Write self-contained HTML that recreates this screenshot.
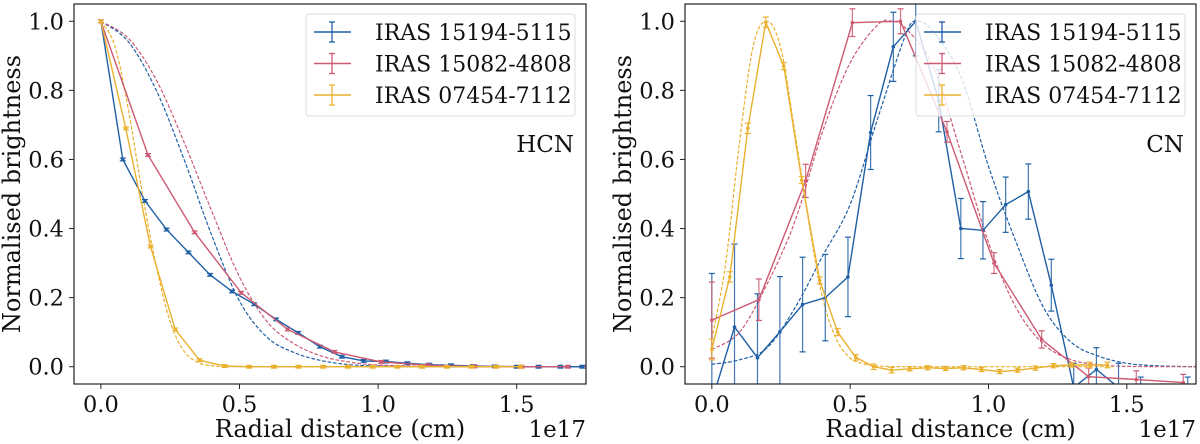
<!DOCTYPE html>
<html><head><meta charset="utf-8">
<style>
html,body{margin:0;padding:0;background:#fff;overflow:hidden;width:1200px;height:444px;}
svg{display:block;}
text{font-family:"DejaVu Serif","Liberation Serif",serif;fill:#111;}
</style></head>
<body>
<svg id="chart" width="1200" height="444" viewBox="0 0 1200 444" xmlns="http://www.w3.org/2000/svg"></svg>
<script>
// ---- HCN panel data ----
const hcnBlueX = [0,0.079,0.159,0.237,0.316,0.394,0.473,0.553,0.632,0.712,0.79,0.869,0.948,1.028,1.106,1.185,1.263,1.342,1.421,1.5,1.579,1.658,1.737];
const hcnBlueY = [1,0.60,0.48,0.397,0.331,0.266,0.218,0.181,0.137,0.098,0.058,0.029,0.017,0.015,0.01,0.006,0.004,0.002,0.001,0,0,0,0];
const hcnRedX = [0,0.17,0.338,0.506,0.674,0.843,1.011,1.18,1.348,1.517,1.685];
const hcnRedY = [1,0.613,0.389,0.214,0.108,0.043,0.014,0.004,0.001,0,0];
const hcnYelX = [0,0.09,0.179,0.268,0.356,0.446,0.535,0.624,0.713,0.802,0.891,0.98,1.07,1.159,1.248,1.337,1.426,1.515];
const hcnYelY = [1,0.69,0.348,0.108,0.019,0.002,0,0,0,0,0,0,0,0,0,0,0,0];
const hcnModelBlueX = [0,0.1,0.2,0.3,0.4,0.5,0.6,0.7,0.8,0.9,1.0,1.2,1.75];
const hcnModelBlueY = [1,0.94,0.80,0.60,0.38,0.19,0.085,0.04,0.017,0.006,0.002,0,0];
const hcnModelRedX = [0,0.1,0.2,0.3,0.4,0.5,0.6,0.7,0.8,0.9,1.0,1.2,1.4,1.75];
const hcnModelRedY = [1,0.95,0.83,0.65,0.45,0.26,0.13,0.065,0.03,0.013,0.005,0.001,0,0];
const hcnModelYelX = [0,0.05,0.1,0.15,0.2,0.25,0.3,0.35,0.4,0.5,1.0,1.5];
const hcnModelYelY = [1,0.93,0.74,0.5,0.29,0.13,0.045,0.013,0.003,0,0,0];

// ---- CN panel data ----
const cnBlueX = [0,0.082,0.165,0.246,0.328,0.41,0.492,0.574,0.656,0.737,0.82,0.9,0.98,1.062,1.144,1.227,1.308,1.39,1.47,1.55,1.63,1.72];
const cnBlueY = [-0.1,0.115,0.026,0.101,0.18,0.2,0.26,0.678,0.926,1.0,0.77,0.40,0.395,0.469,0.507,0.236,-0.06,-0.008,-0.06,-0.1,-0.12,-0.1];
const cnBlueErr = [0.37,0.24,0.185,0.16,0.137,0.125,0.115,0.107,0.1,0.1,0.09,0.087,0.083,0.08,0.08,0.075,0.07,0.063,0.07,0.07,0.07,0.07];
const cnRedX = [0,0.17,0.339,0.508,0.682,0.85,1.02,1.192,1.362,1.534,1.704];
const cnRedY = [0.135,0.194,0.538,0.996,1.0,0.68,0.30,0.079,-0.029,-0.037,-0.046];
const cnRedErr = [0.11,0.06,0.048,0.04,0.036,0.03,0.03,0.025,0.025,0.025,0.024];
const cnYelX = [0,0.065,0.13,0.195,0.26,0.325,0.39,0.455,0.52,0.585,0.65,0.715,0.78,0.845,0.91,0.975,1.04,1.105,1.17,1.235,1.3,1.365,1.43];
const cnYelY = [0.05,0.26,0.69,0.997,0.87,0.54,0.25,0.10,0.027,0.0,-0.01,-0.006,-0.003,-0.005,-0.003,-0.008,-0.014,-0.01,-0.004,0.003,0.005,0.005,0.005];
const cnYelErr = [0.03,0.015,0.015,0.015,0.01,0.01,0.01,0.01,0.008,0.008,0.008,0.006,0.006,0.006,0.006,0.006,0.006,0.006,0.006,0.006,0.006,0.008,0.008];
const cnModelBlueX = [0,0.1,0.2,0.3,0.4,0.5,0.6,0.7,0.74,0.8,0.9,1.0,1.1,1.2,1.3,1.4,1.5,1.6,1.75];
const cnModelBlueY = [0.007,0.02,0.055,0.17,0.32,0.47,0.72,0.96,1.0,0.97,0.84,0.58,0.36,0.17,0.07,0.03,0.01,0.003,0];
const cnModelRedX = [0,0.1,0.2,0.3,0.4,0.5,0.6,0.65,0.7,0.8,0.9,1.0,1.1,1.2,1.3,1.4,1.5,1.75];
const cnModelRedY = [0.05,0.1,0.24,0.42,0.68,0.88,0.99,1.0,0.98,0.87,0.62,0.36,0.17,0.065,0.02,0.006,0.001,0];
const cnModelYelX = [0,0.05,0.1,0.15,0.2,0.25,0.3,0.35,0.4,0.45,0.5,0.55,0.6,0.7,1.0,1.45];
const cnModelYelY = [0.08,0.3,0.65,0.93,1.0,0.92,0.68,0.42,0.2,0.08,0.025,0.008,0.002,0,0,0];

const xTicks = [0,0.5,1.0,1.5];
const xTickLabels = ["0.0","0.5","1.0","1.5"];
const yTicks = [0,0.2,0.4,0.6,0.8,1.0];
const yTickLabels = ["0.0","0.2","0.4","0.6","0.8","1.0"];
const legendLabels = ["IRAS 15194-5115","IRAS 15082-4808","IRAS 07454-7112"];

const COLORS = ["#1f5fa6","#cc5a72","#eab12f"];
const NS = "http://www.w3.org/2000/svg";
const svg = document.getElementById("chart");
function mk(tag, attrs, parent){const e=document.createElementNS(NS,tag);for(const k in attrs)e.setAttribute(k,attrs[k]);(parent||svg).appendChild(e);return e;}
function smooth(pts){
  let d = "M"+pts[0][0].toFixed(1)+","+pts[0][1].toFixed(1);
  for(let i=0;i<pts.length-1;i++){
    const p0=pts[Math.max(0,i-1)], p1=pts[i], p2=pts[i+1], p3=pts[Math.min(pts.length-1,i+2)];
    const c1=[p1[0]+(p2[0]-p0[0])/6, p1[1]+(p2[1]-p0[1])/6];
    const c2=[p2[0]-(p3[0]-p1[0])/6, p2[1]-(p3[1]-p1[1])/6];
    d += " C"+c1[0].toFixed(1)+","+c1[1].toFixed(1)+" "+c2[0].toFixed(1)+","+c2[1].toFixed(1)+" "+p2[0].toFixed(1)+","+p2[1].toFixed(1);
  }
  return d;
}

function panel(id, L, R, label, series, models){
  const T=4, B=384, xmin=-0.097, xmax=1.75, ymin=-0.05, ymax=1.05;
  const sx = v => L + (v - xmin)/(xmax - xmin)*(R - L);
  const sy = v => B - (v - ymin)/(ymax - ymin)*(B - T);
  const g = mk("g",{});
  
  
  const cp = mk("clipPath",{id:id+"clip"},g);
  mk("rect",{x:L,y:T,width:R-L,height:B-T},cp);
  const plot = mk("g",{"clip-path":"url(#"+id+"clip)"},g);
  
  
  models.forEach((m,i)=>{
    const pts = m[0].map((x,j)=>[sx(x), sy(m[1][j])]);
    const p = mk("path",{d:smooth(pts),fill:"none",stroke:COLORS[i],"stroke-width":1.2,"stroke-dasharray":"3.7,1.8"},plot);
    
    
  });
  series.forEach((s,i)=>{
    const sg = mk("g",{},plot);
    
    
    const d = s[0].map((x,j)=>(j?"L":"M")+sx(x).toFixed(1)+","+sy(s[1][j]).toFixed(1)).join(" ");
    mk("path",{d:d,fill:"none",stroke:COLORS[i],"stroke-width":1.4},sg);
    s[0].forEach((x,j)=>{
      const cx=sx(x), cy=sy(s[1][j]);
      const e = s[2] ? s[2][j] : 0.004;
      const y1=sy(s[1][j]+e), y2=sy(s[1][j]-e);
      mk("line",{x1:cx,x2:cx,y1:y1,y2:y2,stroke:COLORS[i],"stroke-width":1.2,opacity:0.85},sg);
      mk("line",{x1:cx-3,x2:cx+3,y1:y1,y2:y1,stroke:COLORS[i],"stroke-width":1.2},sg);
      mk("line",{x1:cx-3,x2:cx+3,y1:y2,y2:y2,stroke:COLORS[i],"stroke-width":1.2},sg);
      const pt = mk("circle",{cx:cx,cy:cy,r:1.8,fill:COLORS[i]},sg);
      
      
    });
  });
  const fr = mk("rect",{x:L,y:T,width:R-L,height:B-T,fill:"none",stroke:"#222","stroke-width":1.2},g);
  
  
  xTicks.forEach((v,k)=>{
    mk("line",{x1:sx(v),x2:sx(v),y1:B,y2:B+5,stroke:"#222","stroke-width":1},g);
    const t = mk("text",{x:sx(v),y:412,"text-anchor":"middle","font-size":22.5},g);
    t.textContent = xTickLabels[k];
    
    
  });
  yTicks.forEach((v,k)=>{
    mk("line",{x1:L-5,x2:L,y1:sy(v),y2:sy(v),stroke:"#222","stroke-width":1},g);
    const t = mk("text",{x:L-10,y:sy(v)+8,"text-anchor":"end","font-size":22.5},g);
    t.textContent = yTickLabels[k];
    
    
  });
  const xl = mk("text",{x:(L+R)/2+10,y:437,"text-anchor":"middle","font-size":24},g);
  xl.textContent = "Radial distance (cm)";
  
  
  const off = mk("text",{x:R,y:437,"text-anchor":"end","font-size":23},g);
  off.textContent = "1e17";
  
  
  const yl = mk("text",{x:0,y:0,"text-anchor":"middle","font-size":24,transform:"translate("+(L-54)+","+(T+B)/2+") rotate(-90)"},g);
  yl.textContent = "Normalised brightness";
  
  
  const ml = mk("text",{x:R-12,y:152,"text-anchor":"end","font-size":23},g);
  ml.textContent = label;
  
  
  const lg = mk("g",{},g);
  
  
  const lx = R-280;
  mk("rect",{x:lx,y:14,width:269,height:102,rx:3,fill:"#fff","fill-opacity":0.8,stroke:"#ddd","stroke-width":1},lg);
  legendLabels.forEach((lab,i)=>{
    const yy = 32 + i*31.5;
    const eg = mk("g",{},lg);
    
    
    mk("line",{x1:lx+8,x2:lx+45,y1:yy,y2:yy,stroke:COLORS[i],"stroke-width":1.5},eg);
    mk("line",{x1:lx+26,x2:lx+26,y1:yy-10,y2:yy+10,stroke:COLORS[i],"stroke-width":1.3},eg);
    mk("line",{x1:lx+23,x2:lx+29,y1:yy-10,y2:yy-10,stroke:COLORS[i],"stroke-width":1.3},eg);
    mk("line",{x1:lx+23,x2:lx+29,y1:yy+10,y2:yy+10,stroke:COLORS[i],"stroke-width":1.3},eg);
    const t = mk("text",{x:lx+69,y:yy+8,"font-size":22},eg);
    t.textContent = lab;
  });
}

panel("hcn", 74, 586, "HCN",
  [[hcnBlueX,hcnBlueY],[hcnRedX,hcnRedY],[hcnYelX,hcnYelY]],
  [[hcnModelBlueX,hcnModelBlueY],[hcnModelRedX,hcnModelRedY],[hcnModelYelX,hcnModelYelY]]);
panel("cn", 685, 1196, "CN",
  [[cnBlueX,cnBlueY,cnBlueErr],[cnRedX,cnRedY,cnRedErr],[cnYelX,cnYelY,cnYelErr]],
  [[cnModelBlueX,cnModelBlueY],[cnModelRedX,cnModelRedY],[cnModelYelX,cnModelYelY]]);
</script>
</body></html>
